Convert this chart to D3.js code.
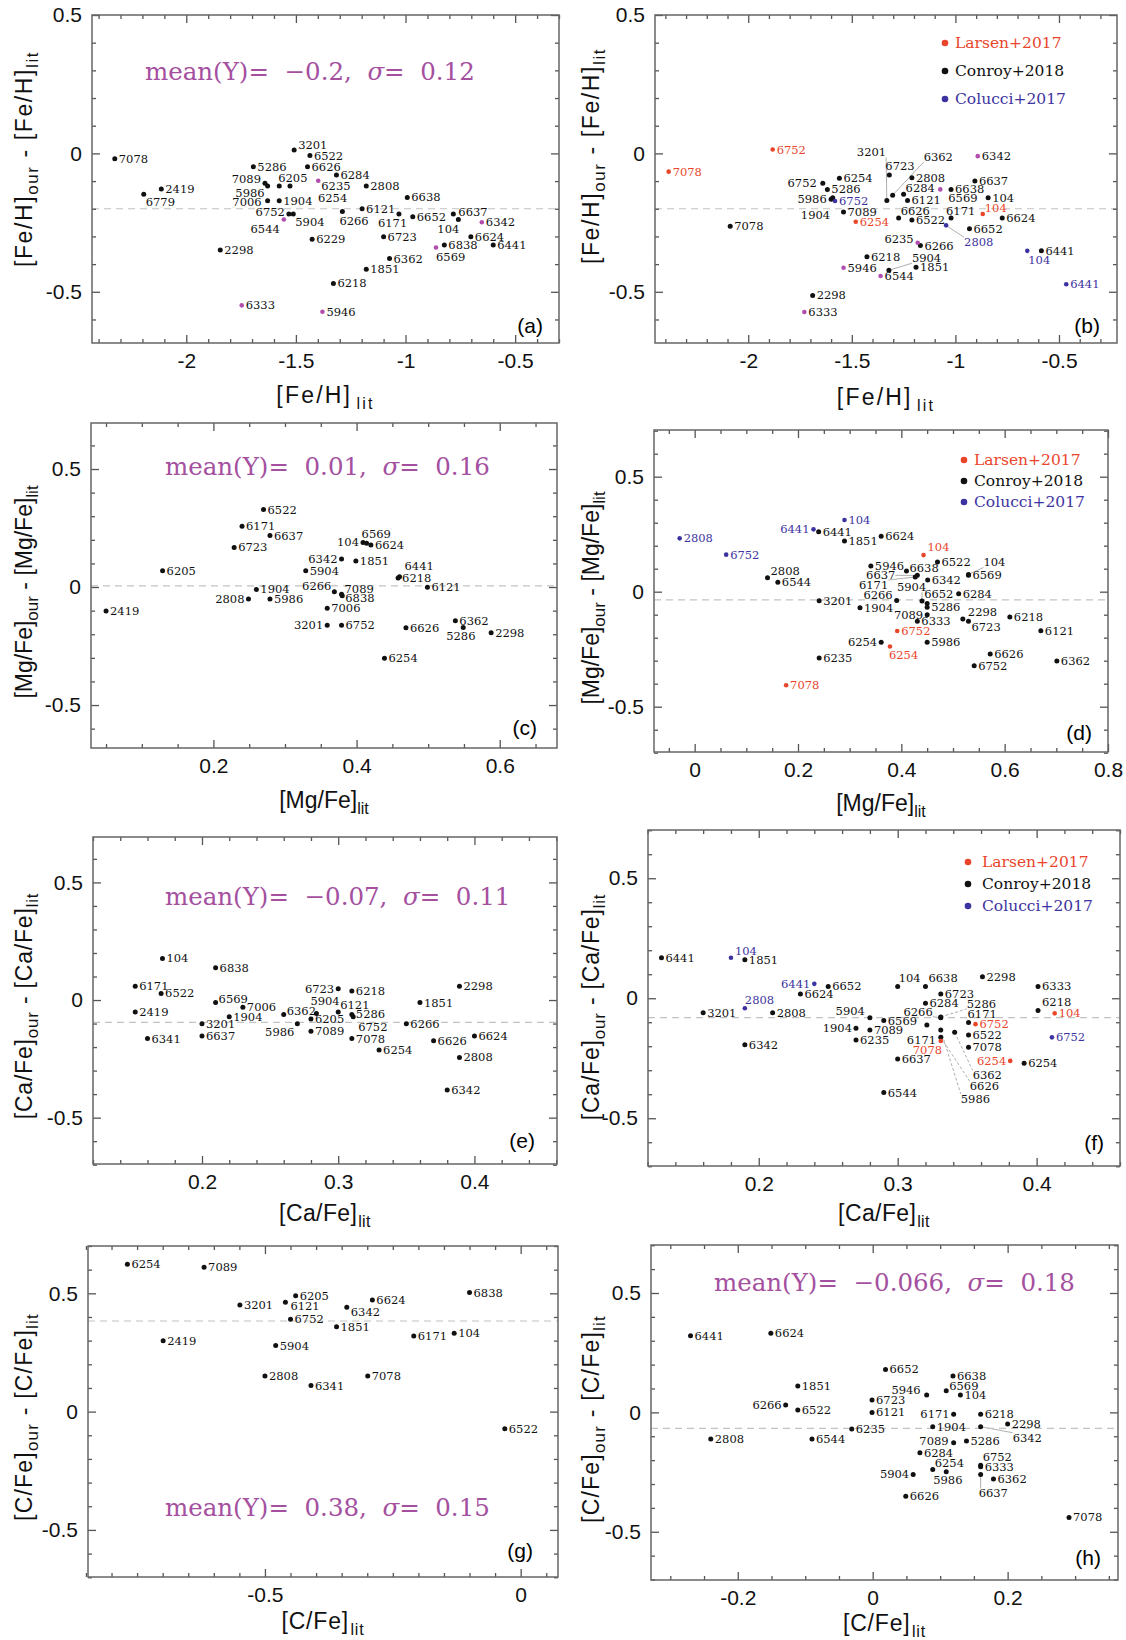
<!DOCTYPE html>
<html>
<head>
<meta charset="utf-8">
<script src="https://cdn.jsdelivr.net/npm/d3@7"></script>
<style>
  body { margin: 0; background: #fff; }
  svg { display: block; }
  .lbl { font-family: "DejaVu Serif", serif; font-size: 11.5px; }
  .ttl { font-family: "Liberation Sans", Arial, sans-serif; font-size: 23px; fill: #111; }
  .mean { font-family: "DejaVu Serif", serif; font-size: 24.5px; white-space: pre; }
  .leg { font-family: "DejaVu Serif", serif; font-size: 15.5px; }
  .letter { font-family: "Liberation Sans", Arial, sans-serif; font-size: 21px; }
</style>
</head>
<body>
<div id="chart"></div>
<script>
// ---- data: [cluster, x_lit, y_our-lit, source]  k=Conroy, r=Larsen, b=Colucci, m=magenta
const feA = [
  ["7078",-2.326,-0.019,"k"],["2419",-2.114,-0.129,"k"],["6779",-2.194,-0.148,"k"],
  ["5286",-1.694,-0.048,"k"],["3201",-1.508,0.012,"k"],["6522",-1.436,-0.008,"k"],
  ["6626",-1.447,-0.048,"k"],["6284",-1.315,-0.078,"k"],["6235",-1.398,-0.099,"m"],
  ["7089",-1.641,-0.108,"k"],["5986",-1.629,-0.118,"k"],["6205",-1.576,-0.118,"k"],
  ["6254",-1.527,-0.118,"k"],["2808",-1.179,-0.118,"k"],["6638",-0.992,-0.159,"k"],
  ["7006",-1.629,-0.171,"k"],["1904",-1.576,-0.171,"k"],["6752",-1.532,-0.219,"k"],
  ["5904",-1.512,-0.219,"k"],["6544",-1.555,-0.239,"m"],["6266",-1.288,-0.210,"k"],
  ["6121",-1.198,-0.200,"k"],["6171",-1.030,-0.219,"k"],["6652",-0.967,-0.229,"k"],
  ["6637",-0.782,-0.219,"k"],["104",-0.759,-0.239,"k"],["6342",-0.652,-0.249,"m"],
  ["6229",-1.426,-0.310,"k"],["6723",-1.100,-0.301,"k"],["6624",-0.702,-0.301,"k"],
  ["6441",-0.600,-0.331,"k"],["6838",-0.823,-0.331,"k"],["6569",-0.861,-0.340,"m"],
  ["2298",-1.845,-0.349,"k"],["6362",-1.073,-0.380,"k"],["1851",-1.179,-0.419,"k"],
  ["6218",-1.329,-0.470,"k"],["6333",-1.747,-0.549,"m"],["5946",-1.379,-0.572,"m"]
];
const feB = [
  ["7078",-2.384,-0.066,"r"],["6752",-1.882,0.014,"r"],["6254",-1.481,-0.247,"r"],["104",-0.868,-0.219,"r"],
  ["7078",-2.087,-0.263,"k"],["6752",-1.640,-0.108,"k"],["5286",-1.618,-0.130,"k"],
  ["5986",-1.592,-0.160,"k"],["1904",-1.600,-0.166,"k"],["6254",-1.560,-0.090,"k"],
  ["7089",-1.540,-0.212,"k"],["3201",-1.331,-0.170,"k"],["6723",-1.319,-0.078,"k"],
  ["6362",-1.303,-0.151,"k"],["6284",-1.250,-0.148,"k"],["6121",-1.231,-0.170,"k"],
  ["2808",-1.210,-0.088,"k"],["6626",-1.274,-0.233,"k"],["6522",-1.210,-0.241,"k"],
  ["6171",-1.021,-0.233,"k"],["6638",-1.021,-0.130,"k"],["6637",-0.906,-0.100,"k"],
  ["104",-0.842,-0.160,"k"],["6624",-0.774,-0.233,"k"],["6652",-0.932,-0.272,"k"],
  ["6266",-1.169,-0.333,"k"],["6218",-1.427,-0.373,"k"],["5904",-1.321,-0.422,"k"],
  ["1851",-1.190,-0.411,"k"],["6441",-0.585,-0.352,"k"],["2298",-1.689,-0.513,"k"],
  ["6569",-1.073,-0.130,"m"],["6342",-0.892,-0.010,"m"],["6235",-1.182,-0.323,"m"],
  ["5946",-1.540,-0.413,"m"],["6544",-1.361,-0.443,"m"],["6333",-1.729,-0.573,"m"],
  ["6752",-1.581,-0.172,"b"],["2808",-1.045,-0.260,"b"],["104",-0.653,-0.352,"b"],["6441",-0.465,-0.473,"b"]
];
const mgC = [
  ["2419",0.050,-0.102,"k"],["6205",0.129,0.069,"k"],["6522",0.270,0.328,"k"],
  ["6171",0.240,0.258,"k"],["6637",0.279,0.218,"k"],["6723",0.229,0.168,"k"],
  ["1904",0.260,-0.010,"k"],["2808",0.249,-0.051,"k"],["5986",0.279,-0.051,"k"],
  ["6342",0.379,0.119,"k"],["5904",0.329,0.069,"k"],["104",0.409,0.189,"k"],
  ["6569",0.414,0.186,"k"],["6624",0.420,0.178,"k"],["1851",0.399,0.110,"k"],
  ["6266",0.369,-0.020,"k"],["7089",0.379,-0.031,"k"],["6838",0.380,-0.037,"k"],
  ["7006",0.359,-0.090,"k"],["3201",0.359,-0.162,"k"],["6752",0.379,-0.162,"k"],
  ["6441",0.460,0.044,"k"],["6218",0.458,0.038,"k"],["6121",0.499,-0.001,"k"],
  ["6626",0.469,-0.172,"k"],["6362",0.538,-0.143,"k"],["5286",0.549,-0.171,"k"],
  ["2298",0.588,-0.194,"k"],["6254",0.439,-0.302,"k"]
];
const mgD = [
  ["2808",-0.029,0.232,"b"],["6752",0.061,0.161,"b"],["6441",0.230,0.271,"b"],["104",0.290,0.312,"b"],
  ["6441",0.240,0.261,"k"],["1851",0.290,0.220,"k"],["6624",0.361,0.241,"k"],
  ["2808",0.141,0.061,"k"],["6544",0.161,0.041,"k"],["3201",0.241,-0.039,"k"],
  ["1904",0.320,-0.070,"k"],["5946",0.341,0.112,"k"],["6638",0.410,0.090,"k"],
  ["6637",0.431,0.071,"k"],["6171",0.427,0.064,"k"],["6342",0.451,0.051,"k"],
  ["6522",0.470,0.129,"k"],["6569",0.530,0.071,"k"],["104",0.530,0.075,"k"],
  ["6284",0.511,-0.009,"k"],["6266",0.391,-0.038,"k"],["5904",0.440,-0.041,"k"],
  ["6652",0.450,-0.051,"k"],["5286",0.450,-0.068,"k"],["7089",0.450,-0.100,"k"],
  ["6333",0.431,-0.129,"k"],["2298",0.519,-0.119,"k"],["6723",0.530,-0.128,"k"],
  ["6218",0.610,-0.110,"k"],["6121",0.670,-0.170,"k"],["6254",0.361,-0.220,"k"],
  ["5986",0.450,-0.220,"k"],["6626",0.572,-0.271,"k"],["6752",0.541,-0.322,"k"],
  ["6362",0.701,-0.301,"k"],["6235",0.241,-0.288,"k"],
  ["104",0.443,0.159,"r"],["6752",0.392,-0.171,"r"],["6254",0.378,-0.238,"r"],["7078",0.177,-0.407,"r"]
];
const caE = [
  ["104",0.171,0.177,"k"],["6838",0.210,0.137,"k"],["6171",0.151,0.059,"k"],
  ["6522",0.170,0.028,"k"],["2419",0.151,-0.051,"k"],["6341",0.160,-0.164,"k"],
  ["6569",0.210,-0.011,"k"],["7006",0.230,-0.031,"k"],["1904",0.220,-0.071,"k"],
  ["3201",0.200,-0.101,"k"],["6637",0.200,-0.153,"k"],["6362",0.260,-0.061,"k"],
  ["5986",0.270,-0.101,"k"],["6723",0.300,0.048,"k"],["6218",0.310,0.038,"k"],
  ["5904",0.284,-0.057,"k"],["6205",0.280,-0.081,"k"],["7089",0.280,-0.133,"k"],
  ["6121",0.300,-0.051,"k"],["5286",0.310,-0.061,"k"],["6752",0.311,-0.071,"k"],
  ["7078",0.310,-0.164,"k"],["6254",0.330,-0.212,"k"],["6266",0.350,-0.101,"k"],
  ["1851",0.360,-0.011,"k"],["6626",0.370,-0.173,"k"],["2298",0.389,0.059,"k"],
  ["6624",0.400,-0.153,"k"],["2808",0.389,-0.244,"k"],["6342",0.380,-0.382,"k"]
];
const caF = [
  ["6441",0.130,0.169,"k"],["1851",0.190,0.160,"k"],["6652",0.250,0.049,"k"],
  ["6624",0.230,0.018,"k"],["3201",0.160,-0.060,"k"],["2808",0.210,-0.060,"k"],
  ["6342",0.190,-0.194,"k"],["5904",0.280,-0.081,"k"],["1904",0.270,-0.125,"k"],
  ["6569",0.290,-0.093,"k"],["7089",0.280,-0.132,"k"],["6235",0.270,-0.174,"k"],
  ["6637",0.300,-0.253,"k"],["6544",0.290,-0.393,"k"],["104",0.300,0.049,"k"],
  ["6638",0.320,0.049,"k"],["6723",0.331,0.018,"k"],["6284",0.320,-0.021,"k"],
  ["2298",0.361,0.090,"k"],["6266",0.331,-0.081,"k"],["5286",0.331,-0.078,"k"],
  ["6171",0.321,-0.111,"k"],["5986",0.331,-0.132,"k"],["6626",0.331,-0.163,"k"],
  ["6362",0.341,-0.142,"k"],["6171",0.351,-0.101,"k"],["6522",0.351,-0.153,"k"],
  ["7078",0.351,-0.204,"k"],["6254",0.391,-0.271,"k"],["6333",0.401,0.049,"k"],
  ["6218",0.401,-0.051,"k"],
  ["7078",0.331,-0.178,"r"],["6752",0.356,-0.108,"r"],["6254",0.381,-0.261,"r"],["104",0.413,-0.063,"r"],
  ["104",0.180,0.169,"b"],["6441",0.240,0.060,"b"],["2808",0.190,-0.042,"b"],["6752",0.411,-0.163,"b"]
];
const cG = [
  ["6254",-0.769,0.623,"k"],["7089",-0.619,0.610,"k"],["3201",-0.549,0.451,"k"],
  ["6205",-0.440,0.490,"k"],["6121",-0.460,0.462,"k"],["6752",-0.450,0.390,"k"],
  ["6342",-0.340,0.441,"k"],["6624",-0.290,0.472,"k"],["1851",-0.360,0.359,"k"],
  ["6838",-0.100,0.503,"k"],["6171",-0.209,0.320,"k"],["104",-0.130,0.331,"k"],
  ["2419",-0.699,0.300,"k"],["5904",-0.479,0.279,"k"],["2808",-0.500,0.151,"k"],
  ["6341",-0.410,0.110,"k"],["7078",-0.299,0.151,"k"],["6522",-0.031,-0.072,"k"]
];
const cH = [
  ["6441",-0.270,0.321,"k"],["6624",-0.151,0.331,"k"],["6652",0.019,0.180,"k"],
  ["6638",0.119,0.152,"k"],["6569",0.109,0.091,"k"],["5946",0.080,0.073,"k"],
  ["104",0.130,0.073,"k"],["1851",-0.111,0.110,"k"],["6266",-0.129,0.031,"k"],
  ["6522",-0.111,0.010,"k"],["6723",-0.001,0.052,"k"],["6121",-0.001,0.000,"k"],
  ["6171",0.120,-0.008,"k"],["6218",0.160,-0.008,"k"],["2298",0.200,-0.049,"k"],
  ["6342",0.160,-0.060,"k"],["1904",0.089,-0.060,"k"],["6235",-0.031,-0.070,"k"],
  ["2808",-0.240,-0.112,"k"],["6544",-0.090,-0.112,"k"],["7089",0.120,-0.127,"k"],
  ["5286",0.139,-0.120,"k"],["6284",0.070,-0.169,"k"],["6254",0.089,-0.239,"k"],
  ["5986",0.109,-0.249,"k"],["5904",0.060,-0.260,"k"],["6752",0.160,-0.221,"k"],
  ["6333",0.160,-0.228,"k"],["6637",0.160,-0.260,"k"],["6362",0.179,-0.279,"k"],
  ["6626",0.049,-0.351,"k"],["7078",0.291,-0.440,"k"]
];

// mean offsets (dashed line) and the printed statistics
const meanLine = { a: -0.2, b: -0.2, c: 0.005, d: -0.036, e: -0.095, f: -0.081, g: 0.383, h: -0.067 };
const stats = { a: ["\u22120.2", "0.12"], c: ["0.01", "0.16"], e: ["\u22120.07", "0.11"], g: ["0.38", "0.15"], h: ["\u22120.066", "0.18"] };
const legendItems = [["Larsen+2017", "r"], ["Conroy+2018", "k"], ["Colucci+2017", "b"]];

// label placement: [dx, dy(centre), anchor s/e, leader 1=solid 2=dashed]; 'l' = left; default right
const labA = { "6779k":[2,8,"s"], "3201k":[4,-5,"s"], "6235m":[3,5,"s"], "7089k":[-4,-4,"e"], "5986k":[-3,7,"e"],
  "6205k":[-1,-8,"s"], "6254k":[28,12,"s"], "7006k":[-6,1,"e"], "6752k":[-4,-2,"e"], "5904k":[2,8,"s"],
  "6544m":[-4,9,"e"], "6266k":[-3,9,"s"], "6171k":[-21,9,"s"], "6637k":[5,-2,"s"], "104k":[-21,9,"s"], "6569m":[0,9,"s"] };
const labB = { "104r":[2,-6,"s"], "6752k":[-6,0,"e"], "5986k":[-6,1,"e"], "1904k":[-1,16,"e"], "3201k":[-30,-48,"s",1],
  "6723k":[-4,-9,"s"], "6362k":[31,-38,"s",1], "6284k":[2,-6,"s"], "6626k":[2,-7,"s"], "6171k":[-5,-7,"s"],
  "2808b":[18,17,"s",1], "6569m":[8,9,"s"], "6235m":[-4,-4,"e"], "5904k":[23,-12,"s",1], "104b":[1,9,"s"] };
const labC = { "2808k":"l", "6342k":"l", "104k":"l", "3201k":"l", "6569k":[-5,-9,"s"], "6266k":[-3,-6,"e"],
  "7089k":[3,-5,"s"], "6838k":[3,2,"s"], "6441k":[5,-11,"s"], "5286k":[-17,9,"s"] };
const labD = { "6441b":"l", "2808k":[3,-7,"s"], "6638k":[3,-3,"s"], "6637k":[-22,0,"e",1], "6171k":[-27,8,"e",1],
  "104k":[15,-12,"s",1], "6266k":[-4,-5,"e"], "5904k":[-25,-14,"s",1], "6652k":[-3,-9,"s"], "7089k":"l",
  "2298k":[5,-7,"s"], "6723k":[3,6,"s"], "6254k":"l", "6254r":[-1,9,"s"], "104r":[4,-8,"s"] };
const labE = { "6569k":[3,-4,"s"], "6362k":[3,-3,"s"], "5986k":[-3,8,"e"], "6723k":"l", "5904k":[-6,-12,"s"],
  "6121k":[2,-7,"s"], "6752k":[5,10,"s"] };
const labF = { "104b":[4,-7,"s"], "6441b":"l", "2808b":[0,-8,"s"], "5904k":[-5,-7,"e"], "1904k":"l", "104k":[1,-8,"s"],
  "6638k":[3,-8,"s"], "6266k":[-8,-6,"e",1], "5286k":[26,-13,"s",2], "6171k":[-20,15,"s"], "7078r":[-28,9,"s"],
  "5986k":[20,69,"s",2], "6626k":[29,49,"s",2], "6362k":[18,43,"s",2], "6171k#1":[-1,-8,"s"], "6254r":"l", "6218k":[4,-8,"s"] };
const labG = { "6121k":[5,4,"s"], "6342k":[4,5,"s"] };
const labH = { "6569k":[3,-5,"s"], "5946k":[-6,-5,"e"], "6266k":"l", "6171k":"l", "6342k":[32,11,"s",1],
  "7089k":[-5,-2,"e"], "6254k":[2,-6,"s"], "5986k":[-13,8,"s"], "5904k":"l", "6752k":[2,-8,"s"], "6637k":[-2,19,"s",1] };

// ---- layout
const W = 1126, H = 1640;
const COL = { k: "#111", m: "#b24fae", r: "#e9452b", b: "#3d33a0" };
const MEANCOL = "#a4509f";
// title letter spacing per element (the source figure's titles are set wider for some rows)
const titleSpacing = { "Fe/H": [2.2, 1.6], "Mg/Fe": [0, 0], "Ca/Fe": [0.4, 0.8], "C/Fe": [0.8, 1.2] };

const panels = [
  { id:"a", box:[92,15,559,343], xd:[-2.43,-0.30], yd:[-0.685,0.5], xs:[0.5,0.1], ys:[0.5,0.1], el:"Fe/H",
    pts:feA, labs:labA, statAt:[145,80], letterAt:[543,333], xt:403, yt:[32,159] },
  { id:"b", box:[655,15,1117,343], xd:[-2.45,-0.22], yd:[-0.685,0.5], xs:[0.5,0.1], ys:[0.5,0.1], el:"Fe/H",
    pts:feB, labs:labB, legend:[945,43,28,955], letterAt:[1100,333], xt:405, yt:[599,156] },
  { id:"c", box:[91,423,557,748], xd:[0.029,0.68], yd:[-0.682,0.695], xs:[0.2,0.05], ys:[0.5,0.1], el:"Mg/Fe",
    pts:mgC, labs:labC, statAt:[165,475], letterAt:[537,735], xt:808, yt:[32,592] },
  { id:"d", box:[654,430,1108,752], xd:[-0.0787,0.8], yd:[-0.697,0.703], xs:[0.2,0.05], ys:[0.5,0.1], el:"Mg/Fe",
    pts:mgD, labs:labD, legend:[964,460,21,974], letterAt:[1092,740], xt:811, yt:[599,598] },
  { id:"e", box:[93,837,557,1164], xd:[0.12,0.4606], yd:[-0.697,0.693], xs:[0.1,0.02], ys:[0.5,0.1], el:"Ca/Fe",
    pts:caE, labs:labE, statAt:[165,905], letterAt:[535,1148], xt:1221, yt:[32,1006] },
  { id:"f", box:[648,830,1120,1166], xd:[0.1203,0.46], yd:[-0.699,0.701], xs:[0.1,0.02], ys:[0.5,0.1], el:"Ca/Fe",
    pts:caF, labs:labF, legend:[968,862,22,982], letterAt:[1104,1150], xt:1221, yt:[599,1007] },
  { id:"g", box:[88,1246,558,1577], xd:[-0.846,0.073], yd:[-0.699,0.70], xs:[0.5,0.05], ys:[0.5,0.1], el:"C/Fe",
    pts:cG, labs:labG, statAt:[165,1516], letterAt:[533,1558], xt:1629, yt:[32,1417] },
  { id:"h", box:[651,1245,1118,1580], xd:[-0.3286,0.3636], yd:[-0.702,0.701], xs:[0.2,0.05], ys:[0.5,0.1], el:"C/Fe",
    pts:cH, labs:labH, statAt:[714,1291], letterAt:[1101,1565], xt:1631, yt:[599,1419] }
];

const svg = d3.select("#chart").append("svg")
  .attr("width", W).attr("height", H).attr("viewBox", `0 0 ${W} ${H}`);
svg.append("rect").attr("width", W).attr("height", H).attr("fill", "#fff");

const fmt = v => String(+v.toFixed(2));
function ticksFor(dom, step) {
  const lo = Math.ceil((dom[0] - 0.004) / step), hi = Math.floor((dom[1] + 0.004) / step);
  return d3.range(lo, hi + 1).map(i => +(i * step).toFixed(4));
}
function minorOf(dom, step, major) {
  return ticksFor(dom, step).filter(v => !major.some(m => Math.abs(m - v) < 1e-6));
}
function place(labs, key) {
  const v = labs[key];
  if (!v) return [4, 0, "s"];
  if (v === "l") return [-4, 0, "e"];
  return v;
}

panels.forEach(p => {
  const [x0, y0, x1, y1] = p.box;
  const x = d3.scaleLinear().domain(p.xd).range([x0, x1]);
  const y = d3.scaleLinear().domain(p.yd).range([y1, y0]);
  const g = svg.append("g").attr("class", "panel-" + p.id);

  // dashed mean line
  g.append("line")
    .attr("x1", x0).attr("x2", x1)
    .attr("y1", y(meanLine[p.id])).attr("y2", y(meanLine[p.id]))
    .attr("stroke", "#c2c2c2").attr("stroke-width", 1.2).attr("stroke-dasharray", "7,5");

  // axes: major + minor ticks on all four sides, pointing inwards
  const xM = ticksFor(p.xd, p.xs[0]), xm = minorOf(p.xd, p.xs[1], xM);
  const yM = ticksFor(p.yd, p.ys[0]), ym = minorOf(p.yd, p.ys[1], yM);
  const axes = [
    [d3.axisBottom(x), xM, 8, true, `translate(0,${y1})`], [d3.axisBottom(x), xm, 4, false, `translate(0,${y1})`],
    [d3.axisTop(x), xM, 8, false, `translate(0,${y0})`], [d3.axisTop(x), xm, 4, false, `translate(0,${y0})`],
    [d3.axisLeft(y), yM, 8, true, `translate(${x0},0)`], [d3.axisLeft(y), ym, 4, false, `translate(${x0},0)`],
    [d3.axisRight(y), yM, 8, false, `translate(${x1},0)`], [d3.axisRight(y), ym, 4, false, `translate(${x1},0)`]
  ];
  axes.forEach(([ax, vals, len, lab, tr]) => {
    const a = g.append("g").attr("transform", tr)
      .call(ax.tickValues(vals).tickSize(-len).tickSizeOuter(0).tickPadding(lab ? 10 : 0).tickFormat(lab ? fmt : ""));
    a.select(".domain").remove();
    a.selectAll("line").attr("stroke", "#555").attr("stroke-width", 1.3);
    a.attr("font-family", "'Liberation Sans', Arial, sans-serif").attr("font-size", 21);
    a.selectAll("text").attr("fill", "#111");
  });

  // frame
  g.append("rect").attr("x", x0).attr("y", y0).attr("width", x1 - x0).attr("height", y1 - y0)
    .attr("fill", "none").attr("stroke", "#666").attr("stroke-width", 1.5);

  // points
  g.append("g").selectAll("circle").data(p.pts).join("circle")
    .attr("cx", d => x(d[1])).attr("cy", d => y(d[2]))
    .attr("r", d => d[3] === "k" ? 2.5 : 2.3)
    .attr("fill", d => COL[d[3]]);

  // labels (+ leader lines)
  const seen = {};
  const lg = g.append("g");
  p.pts.forEach(d => {
    let key = d[0] + d[3];
    const n = seen[key] || 0; seen[key] = n + 1;
    if (n > 0) key += "#" + n;
    const [dx, dy, an, lead] = place(p.labs, key);
    const cx = x(d[1]), cy = y(d[2]);
    const t = lg.append("text").attr("class", "lbl")
      .attr("x", cx + dx).attr("y", cy + dy + 4)
      .attr("text-anchor", an === "e" ? "end" : "start")
      .attr("fill", d[3] === "r" || d[3] === "b" ? COL[d[3]] : "#111")
      .text(d[0]);
    if (lead) {
      const bb = t.node().getBBox();
      const px = Math.max(bb.x, Math.min(cx, bb.x + bb.width));
      const py = Math.max(bb.y + 2, Math.min(cy, bb.y + bb.height - 2));
      g.append("line").attr("x1", cx).attr("y1", cy).attr("x2", px).attr("y2", py)
        .attr("stroke", "#9a9a9a").attr("stroke-width", 0.8)
        .attr("stroke-dasharray", lead === 2 ? "3,2" : null)
        .lower();
    }
  });

  // statistics text
  if (stats[p.id]) {
    const [m, s] = stats[p.id];
    const t = g.append("text").attr("class", "mean").attr("xml:space", "preserve")
      .attr("x", p.statAt[0]).attr("y", p.statAt[1]).attr("fill", MEANCOL);
    t.append("tspan").text(`mean(Y)=  ${m},  `);
    t.append("tspan").attr("font-style", "italic").text("\u03c3");
    t.append("tspan").text(`=  ${s}`);
  }

  // legend
  if (p.legend) {
    const [lx, ly, step, tx] = p.legend;
    legendItems.forEach(([name, c], i) => {
      g.append("circle").attr("cx", lx).attr("cy", ly + i * step).attr("r", 3.3).attr("fill", COL[c]);
      g.append("text").attr("class", "leg").attr("x", tx).attr("y", ly + i * step + 5)
        .attr("fill", COL[c]).text(name);
    });
  }

  // panel letter
  g.append("text").attr("class", "letter").attr("x", p.letterAt[0]).attr("y", p.letterAt[1])
    .attr("text-anchor", "end").text(`(${p.id})`);

  // axis titles
  const [sx, sy] = titleSpacing[p.el];
  const xt = g.append("text").attr("class", "ttl").attr("x", (x0 + x1) / 2).attr("y", p.xt)
    .attr("text-anchor", "middle").attr("letter-spacing", sx);
  xt.append("tspan").text(`[${p.el}]`);
  xt.append("tspan").attr("dx", sx * 2).attr("dy", 6).attr("font-size", 16).text("lit");

  const yt = g.append("text").attr("class", "ttl").attr("font-size", 25).attr("letter-spacing", sy)
    .attr("transform", `translate(${p.yt[0]},${p.yt[1]}) rotate(-90)`).attr("text-anchor", "middle");
  yt.append("tspan").text(`[${p.el}]`);
  yt.append("tspan").attr("dy", 6).attr("font-size", 17).text("our");
  yt.append("tspan").attr("dy", -6).text(` - [${p.el}]`);
  yt.append("tspan").attr("dy", 6).attr("font-size", 17).text("lit");
});
</script>
</body>
</html>
